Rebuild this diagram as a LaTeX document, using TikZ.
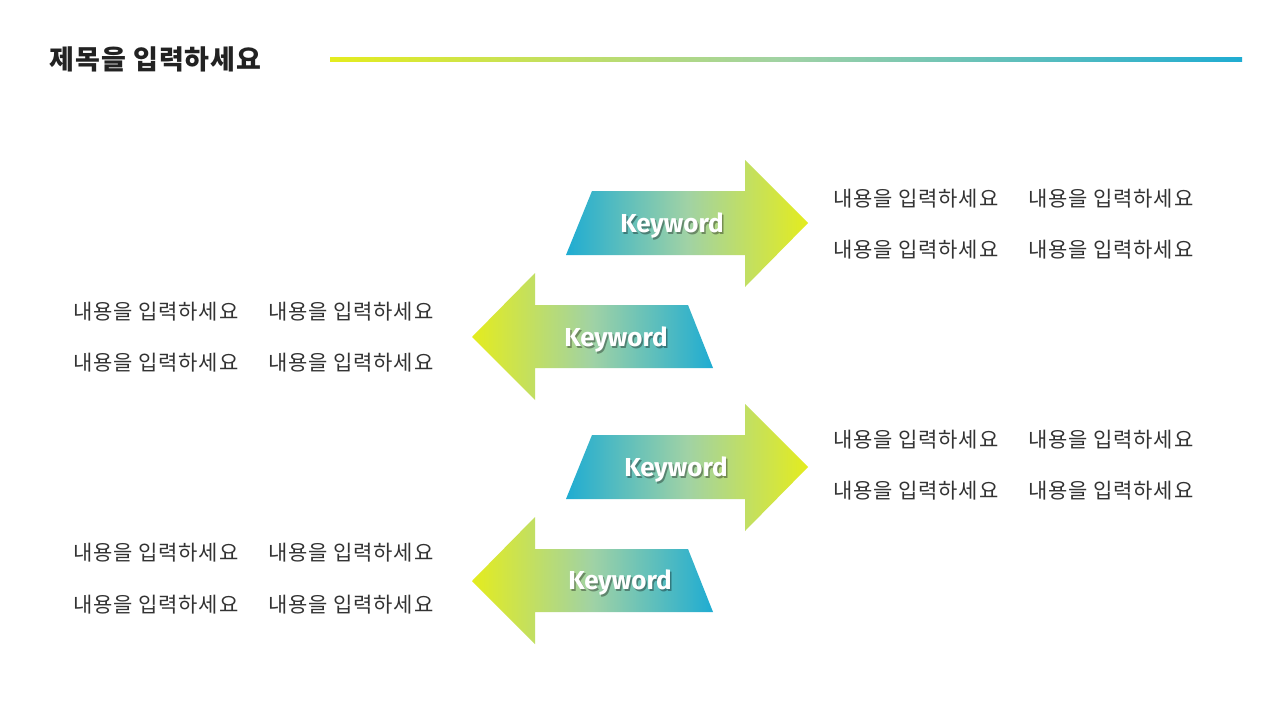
\documentclass[tikz,border=0pt]{standalone}
\usepackage{fontspec}
\newfontfamily\kr{Noto Sans CJK KR}[LetterSpace=4]
\newfontfamily\krt{Noto Sans CJK KR}[LetterSpace=4]
\newfontfamily\kwfont{Fira Sans}
\definecolor{gblue}{RGB}{31,172,210}
\definecolor{gyellow}{RGB}{228,236,30}
\definecolor{gmid}{RGB}{160,210,165}
\definecolor{txt}{RGB}{51,51,51}
\definecolor{ttl}{RGB}{34,34,34}
\pgfdeclarehorizontalshading{rgrad}{100bp}{color(0bp)=(gblue); color(25bp)=(gblue); color(50bp)=(gmid); color(75bp)=(gyellow); color(100bp)=(gyellow)}
\pgfdeclarehorizontalshading{lgrad}{100bp}{color(0bp)=(gyellow); color(25bp)=(gyellow); color(50bp)=(gmid); color(75bp)=(gblue); color(100bp)=(gblue)}
\tikzset{
  kw/.style={font=\kwfont\bfseries\fontsize{26}{26}\selectfont, text=white, inner sep=0},
  kwsh/.style={font=\kwfont\bfseries\fontsize{26}{26}\selectfont, text=black, opacity=0.35, inner sep=0},
  bodytxt/.style={font=\kr\fontsize{21}{22}\selectfont, text=txt, anchor=west, inner sep=0},
  rarrow/.style={shading=rgrad},
  larrow/.style={shading=lgrad},
}
\begin{document}
\begin{tikzpicture}[x=1pt,y=-1pt]
\useasboundingbox (0,0) rectangle (1280,720);
\fill[white] (0,0) rectangle (1280,720);
% title
\node[font=\krt\bfseries\fontsize{27}{28}\selectfont, text=ttl, anchor=west, inner sep=0] (title) at (49,59) {제목을 입력하세요};
\shade[shading=lgrad] (330,57) rectangle (1242,61);
% arrows
\foreach \dy/\n in {0/1,244/3}{
  \begin{scope}[yshift=-\dy pt]
  \path[rarrow] (566,255) -- (592,191) -- (745,191) -- (745,160) -- (808,223) -- (745,287) -- (745,255) -- cycle;
  \end{scope}
}
\foreach \dy/\n in {0/2,244/4}{
  \begin{scope}[yshift=-\dy pt]
  \path[larrow] (713,368) -- (688,305) -- (535,305) -- (535,273) -- (472,337) -- (535,400) -- (535,368) -- cycle;
  \end{scope}
}
% keywords
\node[kwsh] at (673.5,227.5) {Keyword};
\node[kw] (k1) at (672,226) {Keyword};
\node[kwsh] at (617.5,341.5) {Keyword};
\node[kw] (k2) at (616,340) {Keyword};
\node[kwsh] at (677.5,471.5) {Keyword};
\node[kw] (k3) at (676,470) {Keyword};
\node[kwsh] at (621.5,584.5) {Keyword};
\node[kw] (k4) at (620,583) {Keyword};
% right texts
\node[bodytxt] (r1a) at (833,199) {내용을 입력하세요};
\node[bodytxt] (r1b) at (1028,199) {내용을 입력하세요};
\node[bodytxt] (r1c) at (833,250) {내용을 입력하세요};
\node[bodytxt] (r1d) at (1028,250) {내용을 입력하세요};
\node[bodytxt] (r3a) at (833,440) {내용을 입력하세요};
\node[bodytxt] (r3b) at (1028,440) {내용을 입력하세요};
\node[bodytxt] (r3c) at (833,491) {내용을 입력하세요};
\node[bodytxt] (r3d) at (1028,491) {내용을 입력하세요};
% left texts
\node[bodytxt] (l2a) at (73,312) {내용을 입력하세요};
\node[bodytxt] (l2b) at (268,312) {내용을 입력하세요};
\node[bodytxt] (l2c) at (73,363) {내용을 입력하세요};
\node[bodytxt] (l2d) at (268,363) {내용을 입력하세요};
\node[bodytxt] (l4a) at (73,553) {내용을 입력하세요};
\node[bodytxt] (l4b) at (268,553) {내용을 입력하세요};
\node[bodytxt] (l4c) at (73,605) {내용을 입력하세요};
\node[bodytxt] (l4d) at (268,605) {내용을 입력하세요};
\end{tikzpicture}
\end{document}
